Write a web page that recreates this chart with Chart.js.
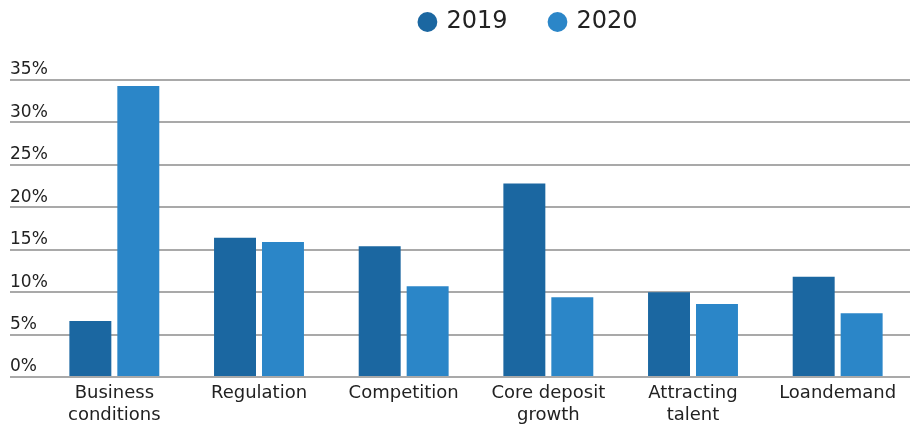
<!DOCTYPE html>
<html>
<head>
<meta charset="utf-8">
<script src="https://cdn.jsdelivr.net/npm/chart.js@4/dist/chart.umd.min.js"></script>
<style>
    html, body { margin: 0; padding: 0; background: #fff; }
    #wrap { position: relative; width: 910px; height: 427px; }
</style>
</head>
<body>
<div id="wrap"><canvas id="chart"></canvas></div>
<script>
// -------------------------------------------------------------------------
// Data
// -------------------------------------------------------------------------
const categories = [
    ['Business', 'conditions'],
    'Regulation',
    'Competition',
    ['Core deposit', 'growth'],
    ['Attracting', 'talent'],
    'Loandemand'
];
const values2019 = [6.6, 16.4, 15.4, 22.8, 10.0, 11.8];
const values2020 = [34.3, 15.9, 10.7, 9.4, 8.6, 7.5];
const yTicks = [0, 5, 10, 15, 20, 25, 30, 35];

const dark = '#1b67a1';
const light = '#2b86c8';
const fontFamily = '"DejaVu Sans", Lato, sans-serif';

// Nudge the legend right of centre and up, like the original
const legendShift = {
    id: 'legendShift',
    afterLayout(chart) {
        const lg = chart.legend;
        if (!lg) return;
        lg.left += 69;
        lg.right += 69;
        lg.top -= 36;
        lg.bottom -= 36;
    }
};

new Chart(document.getElementById('chart'), {
    type: 'bar',
    data: {
        labels: categories,
        datasets: [
            { label: '2019', data: values2019, backgroundColor: dark },
            { label: '2020', data: values2020, backgroundColor: light }
        ]
    },
    options: {
        responsive: true,
        maintainAspectRatio: false,
        animation: false,
        categoryPercentage: 0.663,
        barPercentage: 0.875,
        layout: { padding: { left: 10, right: 0, top: 3, bottom: 0 } },
        plugins: {
            legend: {
                position: 'top',
                labels: {
                    usePointStyle: true,
                    pointStyle: 'circle',
                    boxWidth: 14,
                    boxHeight: 14,
                    padding: 43,
                    color: '#222',
                    font: { family: fontFamily, size: 24 }
                }
            },
            tooltip: { enabled: false }
        },
        scales: {
            x: {
                afterFit: scale => { scale.height = 50; },
                grid: { display: false, drawTicks: false },
                border: { display: false },
                ticks: {
                    color: '#222',
                    padding: 5,
                    maxRotation: 0,
                    autoSkip: false,
                    font: { family: fontFamily, size: 18, lineHeight: 1.22 }
                }
            },
            y: {
                min: 0,
                max: 35,
                afterBuildTicks: scale => {
                    scale.ticks = yTicks.map(v => ({ value: v }));
                },
                afterFit: scale => { scale.width = 32; },
                border: { display: false },
                grid: {
                    color: '#a9a9a9',
                    lineWidth: 2,
                    drawTicks: true,
                    tickLength: 32
                },
                ticks: {
                    color: '#222',
                    mirror: true,          // avoids clipping to the narrow axis box
                    padding: -32,
                    labelOffset: -10,
                    font: { family: fontFamily, size: 17 },
                    callback: v => v + '%'
                }
            }
        }
    },
    plugins: [legendShift]
});
</script>
</body>
</html>
